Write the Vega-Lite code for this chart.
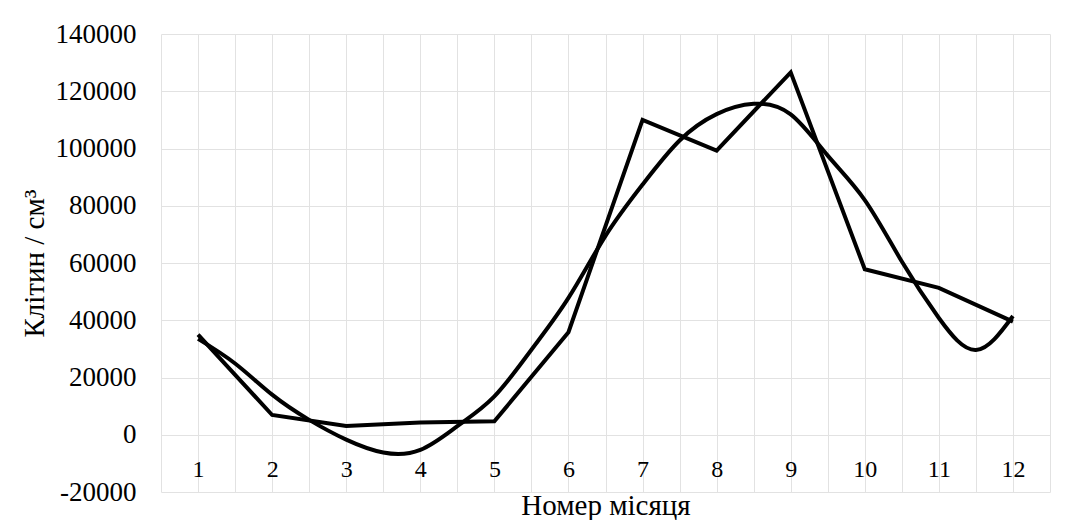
{
  "$schema": "https://vega.github.io/schema/vega-lite/v6.json",
  "width": 889,
  "height": 458,
  "autosize": "none",
  "padding": {"left": 161, "top": 34, "right": 21, "bottom": 28},
  "background": "white",
  "config": {"font": "Liberation Serif, serif", "view": {"stroke": null}},
  "datasets": {
    "observed": [
      {"month": 1, "cells": 35000},
      {"month": 2, "cells": 6900},
      {"month": 3, "cells": 3100},
      {"month": 4, "cells": 4300},
      {"month": 5, "cells": 4700},
      {"month": 6, "cells": 35800},
      {"month": 7, "cells": 110000},
      {"month": 8, "cells": 99300},
      {"month": 9, "cells": 126600},
      {"month": 10, "cells": 57800},
      {"month": 11, "cells": 51300},
      {"month": 12, "cells": 39500}
    ],
    "trend": [
      {"month": 1, "cells": 33500},
      {"month": 1.5, "cells": 24900},
      {"month": 2, "cells": 14000},
      {"month": 2.5, "cells": 5200},
      {"month": 3, "cells": -1700},
      {"month": 3.5, "cells": -6200},
      {"month": 4, "cells": -5300},
      {"month": 4.5, "cells": 3000},
      {"month": 5, "cells": 13400},
      {"month": 5.5, "cells": 29700},
      {"month": 6, "cells": 47800},
      {"month": 6.5, "cells": 69500},
      {"month": 7, "cells": 87400},
      {"month": 7.5, "cells": 102800},
      {"month": 8, "cells": 112000},
      {"month": 8.5, "cells": 115600},
      {"month": 9, "cells": 111900},
      {"month": 9.5, "cells": 97500},
      {"month": 10, "cells": 82000},
      {"month": 10.5, "cells": 60500},
      {"month": 11, "cells": 40800},
      {"month": 11.5, "cells": 29600},
      {"month": 12, "cells": 41500}
    ]
  },
  "encoding": {
    "x": {
      "field": "month",
      "type": "quantitative",
      "scale": {"domain": [0.5, 12.5], "nice": false, "zero": false},
      "axis": {
        "values": [0.5, 1, 1.5, 2, 2.5, 3, 3.5, 4, 4.5, 5, 5.5, 6, 6.5, 7, 7.5, 8, 8.5, 9, 9.5, 10, 10.5, 11, 11.5, 12, 12.5],
        "labelExpr": "datum.value % 1 === 0 ? '' + datum.value : ''",
        "labelOverlap": false,
        "labelFlush": false,
        "grid": true,
        "gridColor": "#e2e2e2",
        "gridWidth": 1,
        "domain": false,
        "ticks": false,
        "offset": -57,
        "labelFont": "Liberation Serif, serif",
        "labelFontSize": 24,
        "labelColor": "black",
        "labelPadding": 22,
        "title": "Номер місяця",
        "titleFont": "Liberation Serif, serif",
        "titleFontSize": 29,
        "titleFontWeight": "normal",
        "titleColor": "black",
        "titlePadding": 10
      }
    },
    "y": {
      "field": "cells",
      "type": "quantitative",
      "scale": {"domain": [-20000, 140000], "nice": false, "zero": false},
      "axis": {
        "values": [-20000, 0, 20000, 40000, 60000, 80000, 100000, 120000, 140000],
        "labelExpr": "'' + datum.value",
        "grid": true,
        "gridColor": "#e2e2e2",
        "gridWidth": 1,
        "domain": false,
        "ticks": false,
        "labelFont": "Liberation Serif, serif",
        "labelFontSize": 27,
        "labelColor": "black",
        "labelPadding": 25,
        "title": "Клітин / см³",
        "titleFont": "Liberation Serif, serif",
        "titleFontSize": 29,
        "titleFontWeight": "normal",
        "titleColor": "black",
        "titlePadding": 6
      }
    }
  },
  "layer": [
    {
      "data": {"name": "trend"},
      "mark": {"type": "line", "interpolate": "natural", "color": "black", "strokeWidth": 4}
    },
    {
      "data": {"name": "observed"},
      "mark": {"type": "line", "color": "black", "strokeWidth": 4, "strokeJoin": "miter"}
    }
  ]
}
